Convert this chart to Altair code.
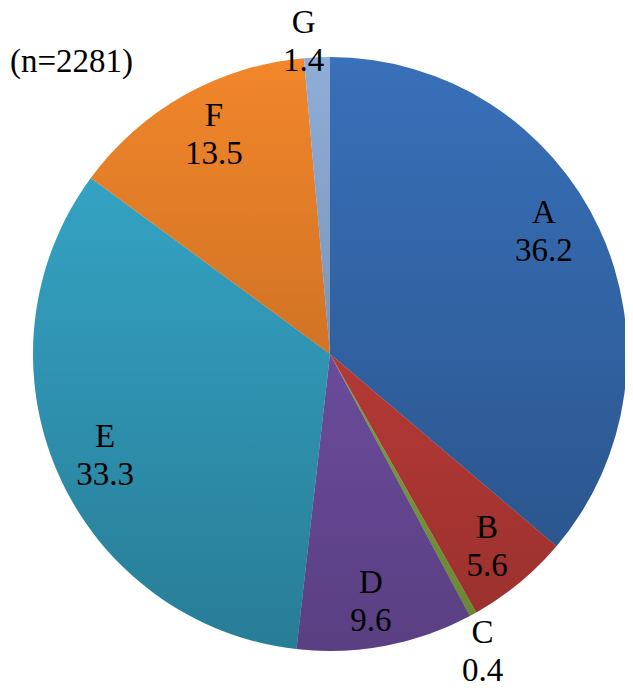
import altair as alt
import pandas as pd

categories = ["A", "B", "C", "D", "E", "F", "G"]
values = [36.2, 5.6, 0.4, 9.6, 33.3, 13.5, 1.4]
value_labels = ["36.2", "5.6", "0.4", "9.6", "33.3", "13.5", "1.4"]
note = "(n=2281)"

# styles
colors = ["#3870b9", "#d2423e", "#8fb845", "#7c57b4", "#37accf", "#f2862a", "#8eadd8"]
label_radius = [246, 249, 335, 251, 247, 248, 313]
label_angle_shift = [-4.8, 0.5, 1.7, 1.4, -0.8, 1.4, -2.3]  # degrees

CX, CY, R = 322, 346, 297
FS, LH = 33, 38

df = pd.DataFrame({
    "cat": categories,
    "value": values,
    "label": [f"{c}\n{v}" for c, v in zip(categories, value_labels)],
    "lr": label_radius,
    "shift": label_angle_shift,
    "idx": list(range(len(categories))),
})

arcs = alt.Chart(df).mark_arc(radius=R).encode(
    theta=alt.Theta("value:Q", stack=True),
    order=alt.Order("idx:Q"),
    x=alt.value(CX),
    y=alt.value(CY),
    color=alt.Color("cat:N", scale=alt.Scale(domain=categories, range=colors), legend=None),
)

shade = alt.Chart(pd.DataFrame({"d": [1]})).mark_arc(
    radius=R, theta=0, theta2=6.2832,
    fill=alt.LinearGradient(
        gradient="linear",
        stops=[alt.GradientStop(color="rgba(0,0,0,0)", offset=0),
               alt.GradientStop(color="rgba(0,0,0,0.28)", offset=1)],
        x1=0, x2=0, y1=0, y2=1,
    ),
).encode(x=alt.value(CX), y=alt.value(CY))

labels = alt.Chart(df).transform_window(
    cum="sum(value)", sort=[alt.SortField("idx")], frame=[None, 0]
).transform_joinaggregate(
    total="sum(value)"
).transform_calculate(
    ang="(datum.cum - datum.value / 2) / datum.total * 360 + datum.shift"
).mark_text(
    font="Liberation Serif", fontSize=FS, lineBreak="\n", lineHeight=LH,
    align="center", baseline="middle", color="black", dy=-LH / 2,
).encode(
    theta=alt.Theta("ang:Q", scale=alt.Scale(domain=[0, 360], range=[0, 6.283185307])),
    radius=alt.Radius("lr:Q", scale=None),
    x=alt.value(CX),
    y=alt.value(CY),
    text="label:N",
)

ntext = alt.Chart(pd.DataFrame({"t": [note]})).mark_text(
    font="Liberation Serif", fontSize=FS, align="right", baseline="middle", color="black",
).encode(x=alt.value(125), y=alt.value(54), text="t:N")

chart = alt.layer(arcs, shade, labels, ntext).resolve_scale(
    theta="independent"
).properties(
    width=617, height=676,
    autosize=alt.AutoSizeParams(type="none"),
    padding=0,
).configure_view(stroke=None)

chart.save("out.html", embed_options={"renderer": "svg", "actions": False})
